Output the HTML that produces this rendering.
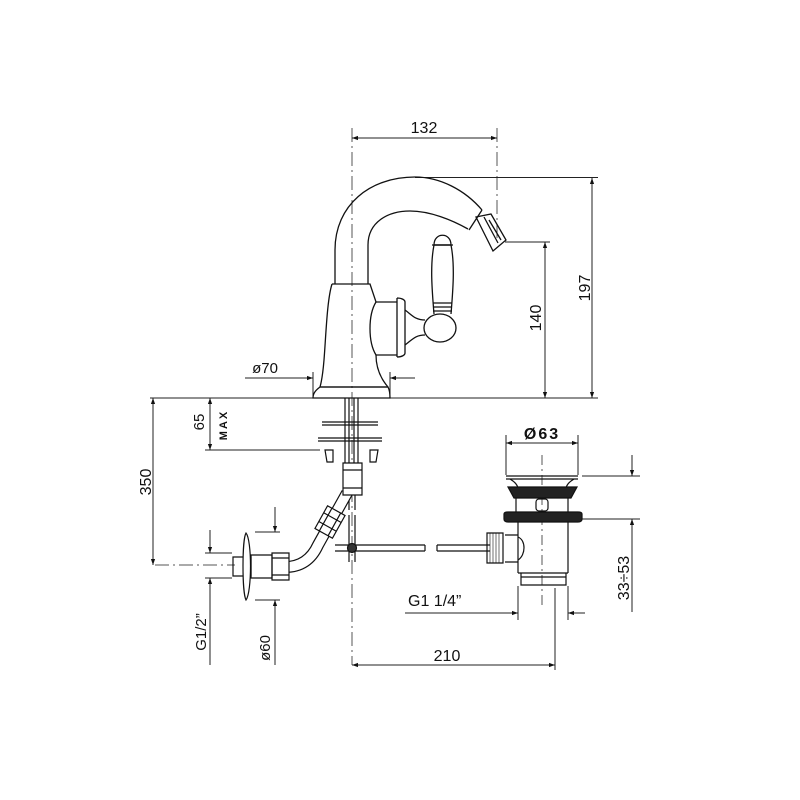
<!DOCTYPE html>
<html><head><meta charset="utf-8"><style>
html,body{margin:0;padding:0;background:#fff;}
svg{display:block}
text{font-family:"Liberation Sans",sans-serif;fill:#111;}
</style></head><body>
<svg width="800" height="800" viewBox="0 0 800 800" xmlns="http://www.w3.org/2000/svg">
<defs>
<marker id="a" viewBox="0 0 10 10" refX="10" refY="5" markerWidth="10" markerHeight="6" orient="auto-start-reverse" markerUnits="userSpaceOnUse"><path d="M0,1.5 L10,5 L0,8.5z" fill="#111"/></marker>
</defs>
<g fill="none" stroke="#222" stroke-width="1">
<path d="M352,128 V665" stroke-dasharray="14,4,2,4" stroke="#555"/>
<path d="M497,128 V240" stroke-dasharray="14,4,2,4" stroke="#555"/>
<path d="M542,455 V605" stroke-dasharray="10,4,2,4" stroke="#555"/>
<path d="M155,565 H235" stroke-dasharray="14,4,2,4" stroke="#555"/>

<path d="M352,138 H497" marker-start="url(#a)" marker-end="url(#a)"/>
<path d="M415,177.5 H598"/>
<path d="M592,178 V398" marker-start="url(#a)" marker-end="url(#a)"/>
<path d="M505,242 H550"/>
<path d="M545,242 V398" marker-start="url(#a)" marker-end="url(#a)"/>
<path d="M150,398 H598"/>
<path d="M153,398 V565" marker-start="url(#a)" marker-end="url(#a)"/>
<path d="M210,398 V450" marker-start="url(#a)" marker-end="url(#a)"/>
<path d="M205,450 H320"/>
<path d="M205,553 H232 M205,578 H232"/>
<path d="M210,530 V553" marker-end="url(#a)"/>
<path d="M210,665 V578" marker-end="url(#a)"/>
<path d="M255,532 H280 M255,600 H280"/>
<path d="M275,507 V532" marker-end="url(#a)"/>
<path d="M275,665 V600" marker-end="url(#a)"/>
<path d="M245,378 H313" marker-end="url(#a)"/>
<path d="M415,378 H390" marker-end="url(#a)"/>
<path d="M313,372 V396 M390,372 V396"/>
<path d="M352,665 H555" marker-start="url(#a)" marker-end="url(#a)"/>
<path d="M555,588 V670"/>
<path d="M506,435 V475 M578,435 V475"/>
<path d="M506,443 H578" marker-start="url(#a)" marker-end="url(#a)"/>
<path d="M582,476 H640 M582,519 H640"/>
<path d="M632,455 V476" marker-end="url(#a)"/>
<path d="M632,612 V519" marker-end="url(#a)"/>
<path d="M405,613 H518" marker-end="url(#a)"/>
<path d="M585,613 H568" marker-end="url(#a)"/>
<path d="M518,586 V620 M568,586 V620"/>

<g stroke="#111" stroke-width="1.3">
<path d="M335,284 V250 C335,205 370,177 415,177 C440,177 465,190 482,210"/>
<path d="M368,284 V245 C368,222 388,211 410,211 C430,211 452,220 468,229"/>
<path d="M482,210 L469,230"/>
<path d="M476,217 L491,214 L506,240 L493,251 Z"/>
<path d="M484,217 L498,243 M489,220 L501,240"/>
<path d="M332,284 H370 C372,290 374,296 376,302 H397 M376,355 H397 M376,355 C376,370 382,380 388,387"/>
<path d="M332,284 C327,300 326,335 324,360 C323,372 322,380 320,387"/>
<path d="M320,387 C316,390 313,393 313,398 H390 C390,392 389,389 388,387 Z"/>
<path d="M320,387 H388"/>
<path d="M376,302 C368,315 368,342 376,355"/>
<path d="M397,298 V357 M405,302 V353 M397,298 C402,298 405,300 405,302 M397,357 C402,357 405,355 405,353"/>
<path d="M405,310 C412,315 415,320 425,320 M405,345 C412,340 415,335 425,335"/>
<ellipse cx="440" cy="328" rx="16" ry="14"/>
<path d="M434,314 C432,290 430,265 434,245 L451,245 C455,265 453,290 451,314"/>
<path d="M433,303 H452 M433,307 H452 M433,311 H452"/>
<path d="M434,245 C434,232 451,232 451,245 Z"/>
<path d="M432,245 H453"/>
</g>

<g stroke="#111" stroke-width="1.2">
<path d="M345,398 V470 M358,398 V470 M349,398 V470 M354,398 V470"/>
<path d="M322,422 H378 M322,425 H378 M318,438 H382 M318,441 H382"/>
<path d="M325,450 H333 V462 H327 Z M370,450 H378 L376,462 H370 Z"/>
<path d="M349,495 V510 M355,495 V510"/>
<path d="M349,515 V562 M355,515 V562"/>
<path d="M335,545 H425 M335,551 H425 M437,545 H490 M437,551 H490 M425,545 V551 M437,545 V551"/>
<path d="M347,493 L318,545 Q308,567 285,567" stroke-width="12"/>
<path d="M347,493 L318,545 Q308,567 285,567" stroke="#fff" stroke-width="9.6"/>
<path d="M343,463 H362 V495 H343 Z M343,470 H362 M343,488 H362" fill="#fff"/>
<g transform="translate(330,522) rotate(119)">
<rect x="-13" y="-10" width="26" height="20" fill="#fff"/>
<path d="M-5,-10 V10 M5,-10 V10 M-13,-5 H13 M-13,5 H13"/>
</g>
<circle cx="352" cy="548" r="4.5" fill="#333"/>
<path d="M272,553 H289 V580 H272 Z M272,558 H289 M272,575 H289" fill="#fff"/>
<path d="M251,555 H272 V578 H251 Z"/>
<path d="M233,557 H251 V576 H233 Z"/>
<path d="M246,533 C252,540 252,592 246,600 C242,592 242,540 246,533 Z" fill="#fff"/>
</g>

<g stroke="#111" stroke-width="1.2">
<path d="M506,476 H578 M506,479 H578"/>
<path d="M510,479 C515,482 518,485 518,489 M574,479 C569,482 566,485 566,489"/>
<path d="M508,487 H577 L571,498 H514 Z" fill="#222"/>
<path d="M516,498 V512 M568,498 V512"/>
<rect x="536" y="499" width="12" height="12" rx="3"/>
<path d="M504,514 Q504,512 508,512 H578 Q582,512 582,514 V519 Q582,522 578,522 H508 Q504,522 504,519 Z" fill="#222"/>
<path d="M518,522 V573 M568,522 V573 M518,573 H568"/>
<path d="M521,573 V585 H566 V573 M521,577 H566"/>
<path d="M505,535 H518 M505,562 H518"/>
<path d="M518,537 C526,540 526,555 518,560"/>
<path d="M487,533 H503 V563 H487 Z"/>
<path d="M490,533 V563 M493,533 V563 M496,533 V563 M499,533 V563" stroke-width="0.6"/>
</g>
</g>

<text x="424" y="133" font-size="16" text-anchor="middle">132</text>
<text x="0" y="0" font-size="16" text-anchor="middle" transform="translate(590,288) rotate(-90)">197</text>
<text x="0" y="0" font-size="16" text-anchor="middle" transform="translate(541,318) rotate(-90)">140</text>
<text x="265" y="373" font-size="15" text-anchor="middle">ø70</text>
<text x="0" y="0" font-size="16" text-anchor="middle" transform="translate(151,482) rotate(-90)">350</text>
<text x="0" y="0" font-size="15" text-anchor="middle" transform="translate(204,422) rotate(-90)">65</text>
<text x="0" y="0" font-size="11" font-weight="bold" text-anchor="middle" letter-spacing="2" transform="translate(227,425) rotate(-90)">MAX</text>
<text x="0" y="0" font-size="15" text-anchor="middle" transform="translate(206,632) rotate(-90)">G1/2”</text>
<text x="0" y="0" font-size="15" text-anchor="middle" transform="translate(270,648) rotate(-90)">ø60</text>
<text x="447" y="661" font-size="16" text-anchor="middle">210</text>
<text x="542" y="439" font-size="16" font-weight="bold" text-anchor="middle" letter-spacing="2">Ø63</text>
<text x="0" y="0" font-size="16" text-anchor="middle" transform="translate(629,578) rotate(-90)">33÷53</text>
<text x="408" y="606" font-size="16">G1  1/4”</text>
</svg>
</body></html>
